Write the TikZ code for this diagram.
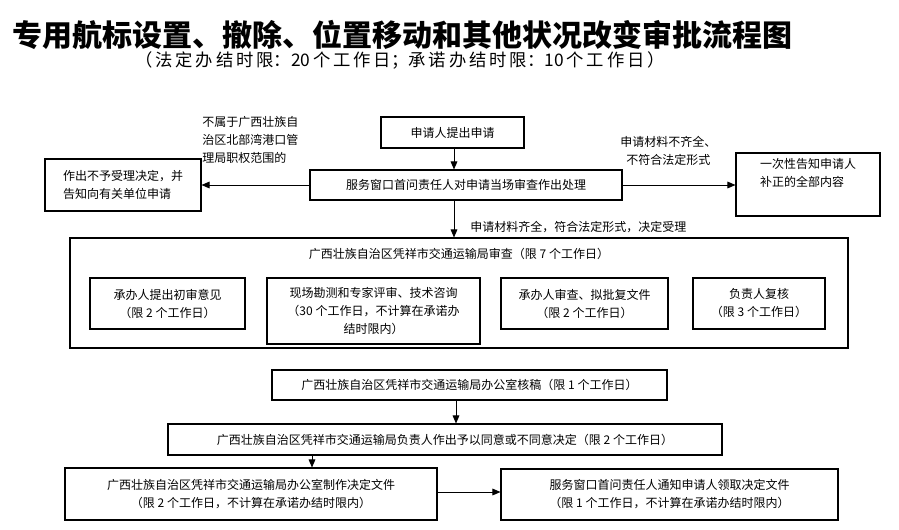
\documentclass[tikz,border=0pt]{standalone}
\usepackage{fontspec}
\newfontfamily\cjk{Noto Sans CJK SC}
\usetikzlibrary{arrows.meta}
\begin{document}
\begin{tikzpicture}[x=0.75pt,y=-0.75pt,
  box/.style={draw,line width=0.8pt,minimum height=0pt,inner sep=0pt},
  txt/.style={font=\cjk\fontsize{9}{13.5}\selectfont,align=center,inner sep=0pt},
  arr/.style={-{Triangle[length=6pt,width=5pt]},line width=0.7pt}]
\useasboundingbox (0,0) rectangle (899,529);
\fill[white] (0,0) rectangle (899,529);
\node[anchor=west,font=\cjk\bfseries\fontsize{22.5}{26}\selectfont] (title) at (8,35) {专用航标设置、撤除、位置移动和其他状况改变审批流程图};
\node[font=\cjk\fontsize{13}{15}\selectfont] (sub) at (400,60) {（\,法\,定\,办\,结\,时\,限：20\,个\,工\,作\,日；承\,诺\,办\,结\,时\,限：10\,个\,工\,作\,日\,）};
% boxes
\node[box,minimum width=143*0.75pt,minimum height=31*0.75pt,txt] (a) at (452.5,132.5) {申请人提出申请};
\node[box,minimum width=312*0.75pt,minimum height=30*0.75pt,txt] (b) at (466,185) {服务窗口首问责任人对申请当场审查作出处理};
\node[box,minimum width=156*0.75pt,minimum height=52*0.75pt,txt,align=left] (c) at (123,185) {作出不予受理决定，并\\告知向有关单位申请};
\node[box,minimum width=144*0.75pt,minimum height=63*0.75pt,txt,align=left,text depth=18pt] (d) at (808,184.5) {一次性告知申请人\\补正的全部内容};
\node[txt,align=left,anchor=north west] (l1) at (202,116) {不属于广西壮族自\\治区北部湾港口管\\理局职权范围的};
\node[txt,align=left,anchor=north west] (l2) at (620,136) {申请材料不齐全、\\\hspace*{0.5em}不符合法定形式};
\node[box,minimum width=778*0.75pt,minimum height=110*0.75pt] (big) at (459,293) {};
\node[txt] (bigt) at (459,254) {广西壮族自治区凭祥市交通运输局审查（限 7 个工作日）};
\node[box,minimum width=155*0.75pt,minimum height=51*0.75pt,txt] (e1) at (167.5,303.5) {承办人提出初审意见\\（限 2 个工作日）};
\node[box,minimum width=213*0.75pt,minimum height=66*0.75pt,txt] (e2) at (373.5,311) {现场勘测和专家评审、技术咨询\\（30 个工作日，不计算在承诺办\\结时限内）};
\node[box,minimum width=167*0.75pt,minimum height=51*0.75pt,txt] (e3) at (584.5,303.5) {承办人审查、拟批复文件\\（限 2 个工作日）};
\node[box,minimum width=132*0.75pt,minimum height=51*0.75pt,txt] (e4) at (759,303.5) {负责人复核\\（限 3 个工作日）};
\node[txt,anchor=west] (lbl) at (470,227) {申请材料齐全，符合法定形式，决定受理};
\node[box,minimum width=395*0.75pt,minimum height=30*0.75pt,txt] (f) at (469.5,385) {广西壮族自治区凭祥市交通运输局办公室核稿（限 1 个工作日）};
\node[box,minimum width=554*0.75pt,minimum height=31*0.75pt,txt] (g) at (445,439.5) {广西壮族自治区凭祥市交通运输局负责人作出予以同意或不同意决定（限 2 个工作日）};
\node[box,minimum width=372*0.75pt,minimum height=52*0.75pt,txt] (h) at (251,494) {广西壮族自治区凭祥市交通运输局办公室制作决定文件\\（限 2 个工作日，不计算在承诺办结时限内）};
\node[box,minimum width=337*0.75pt,minimum height=51*0.75pt,txt] (i) at (669.5,494.5) {服务窗口首问责任人通知申请人领取决定文件\\（限 1 个工作日，不计算在承诺办结时限内）};
% arrows
\draw[arr] (a.south -| 454,0) -- (b.north -| 454,0);
\draw[arr] (b.south -| 454,0) -- (big.north -| 454,0);
\draw[arr] (b.west) -- (c.east);
\draw[arr] (b.east) -- (d.west |- b.east);
\draw[arr] (f.south -| 456,0) -- (g.north -| 456,0);
\draw[arr] (g.south -| 312,0) -- (h.north -| 312,0);
\draw[arr] (h.east |- 0,492) -- (i.west |- 0,492);
\end{tikzpicture}
\end{document}
